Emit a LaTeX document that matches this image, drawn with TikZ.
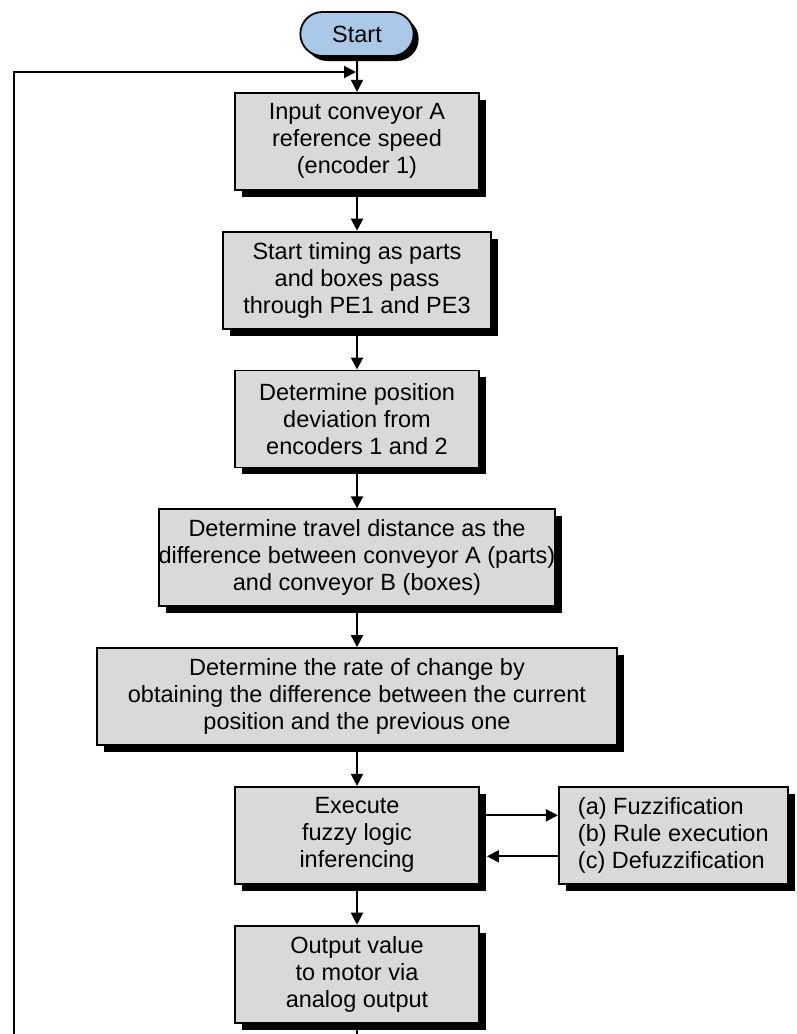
\documentclass[tikz,border=0pt]{standalone}
\usepackage{fontspec}
\setmainfont{Liberation Sans}
\usetikzlibrary{arrows.meta, positioning, shapes.misc, shadows}
\definecolor{boxgray}{RGB}{217,217,217}
\definecolor{startblue}{RGB}{170,201,232}

\begin{document}
\begin{tikzpicture}[x=1pt, y=1pt,
          node distance=40pt,
          box/.style={rectangle, draw=black, line width=1.8pt, fill=boxgray,
                      minimum width=244pt, minimum height=97pt,
                      align=center, font=\fontsize{23.5}{27}\selectfont,
                      drop shadow={shadow xshift=7pt, shadow yshift=-7pt,
                                   fill=black, opacity=1}},
          startbox/.style={rounded rectangle, draw=black, line width=1.8pt,
                      fill=startblue, minimum width=120pt, minimum height=44pt,
                      font=\fontsize{23.5}{27}\selectfont,
                      drop shadow={shadow xshift=5pt, shadow yshift=-5pt,
                                   fill=black, opacity=1}},
          arr/.style={-{Triangle[length=12pt, width=12pt]}, line width=2pt},
          line/.style={line width=2pt}]
          \useasboundingbox (0,0) rectangle (796,-1034);
          \node[startbox] (start) at (357,-34) {Start};
          \node[box, below=35pt of start] (input) {Input conveyor A\\reference speed\\(encoder 1)};
          \node[box, below=of input, minimum width=268pt] (timing) {Start timing as parts\\and boxes pass\\through PE1 and PE3};
          \node[box, below=of timing] (posdev) {Determine position\\deviation from\\encoders 1 and 2};
          \node[box, below=of posdev, minimum width=378pt, inner xsep=0pt] (travel) {Determine travel distance as the\\difference between conveyor A (parts)\\and conveyor B (boxes)};
          \node[box, below=of travel, minimum width=520pt] (rate) {Determine the rate of change by\\obtaining the difference between the current\\position and the previous one};
          \node[box, below=of rate] (fuzzy) {Execute\\fuzzy logic\\inferencing};
          \node[box, below=of fuzzy] (output) {Output value\\to motor via\\analog output};
          \node[box, right=78pt of fuzzy, minimum width=229pt, align=left] (steps) {(a) Fuzzification\\(b) Rule execution\\(c) Defuzzification};
          \coordinate (loopbot) at (14,-1040);
          \coordinate (looptop) at (14,-72);
          \draw[arr] (start)--(input); \draw[arr] (input)--(timing);
          \draw[arr] (timing)--(posdev); \draw[arr] (posdev)--(travel);
          \draw[arr] (travel)--(rate); \draw[arr] (rate)--(fuzzy);
          \draw[arr] (fuzzy)--(output);
          \draw[arr] ([yshift=20pt]fuzzy.east)--([yshift=20pt]steps.west);
          \draw[arr] ([yshift=-21pt]steps.west)--([xshift=7pt, yshift=-21pt]fuzzy.east);
          \draw[line] (output.south)--(output.south |- loopbot);
          \draw[arr, shorten >=1pt] (loopbot)--(looptop)--(input.north |- looptop);
        \end{tikzpicture}
\end{document}
